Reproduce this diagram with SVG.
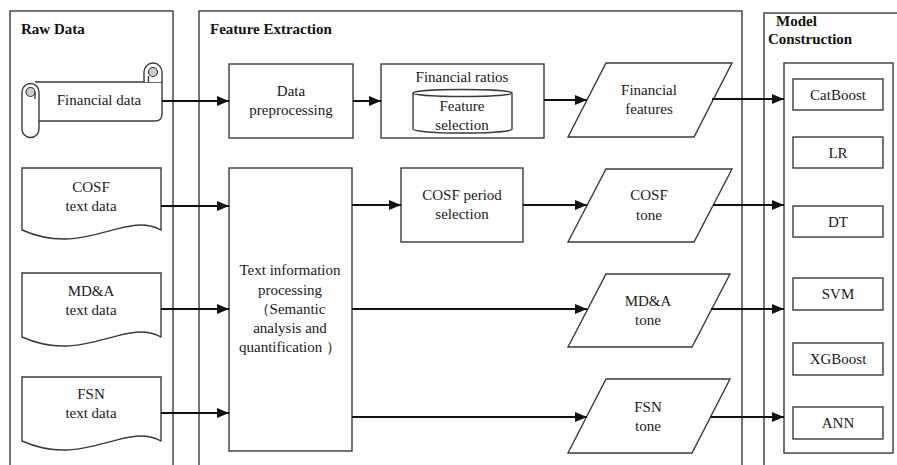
<svg xmlns="http://www.w3.org/2000/svg" width="897" height="465" viewBox="0 0 897 465">
<defs>
<style>
.bx{fill:#fff;stroke:#3a3a3a;stroke-width:1.4}
.pn{fill:none;stroke:#3a3a3a;stroke-width:1.4}
.t{font-family:'Liberation Serif','DejaVu Serif','Times New Roman',serif;font-size:15px;fill:#1a1a1a;text-anchor:middle}
.h{font-family:'Liberation Serif','DejaVu Serif','Times New Roman',serif;font-size:15px;font-weight:bold;fill:#111}
.c{fill:none;stroke:#111;stroke-width:2}
.gr{fill:#ccc;stroke:#3a3a3a;stroke-width:1.2}
</style>
<marker id="ah" markerWidth="12" markerHeight="10" refX="12" refY="5" orient="auto" markerUnits="userSpaceOnUse">
<path d="M0,0 L12,5 L0,10 Z" fill="#111"/>
</marker>
</defs>
<rect width="897" height="465" fill="#fff"/>

<g id="panel-raw">
<rect class="pn" x="10" y="11" width="163" height="480"/>
<text class="h" x="21" y="34" font-family="Liberation Serif, serif">Raw Data</text>
</g>
<g id="panel-feature">
<rect class="pn" x="199" y="11" width="543" height="480"/>
<text class="h" x="210" y="34">Feature Extraction</text>
</g>
<g id="panel-model">
<rect class="pn" x="764" y="13" width="160" height="480"/>
<text class="h" x="776" y="26">Model</text>
<text class="h" x="768" y="44">Construction</text>
<rect class="bx" x="784" y="63" width="109" height="390"/>
</g>

<g id="financial-data">
<path class="bx" d="M35,82 H162 V114 Q162,121 155,121 H39"/>
<path class="bx" d="M144,82 V72 A9,9 0 0 1 162,72 V82"/>
<circle class="gr" cx="153" cy="72" r="4.5"/>
<path class="pn" d="M148.5,82 V76"/>
<path class="bx" d="M22,92 A8.5,8.5 0 0 1 39,92 V129 A8.5,8.5 0 0 1 22,129 Z"/>
<circle class="gr" cx="30.5" cy="92" r="4.5"/>
<path class="pn" d="M35,92 V99"/>
<text class="t" x="99" y="105">Financial data</text>
</g>

<g id="cosf-text">
<path class="bx" d="M22,168 H161 V230 C125,210 85,258 22,230 Z"/>
<text class="t" x="91" y="192">COSF</text>
<text class="t" x="91" y="211">text data</text>
</g>
<g id="mda-text">
<path class="bx" d="M22,273 H161 V337 C125,317 85,365 22,337 Z"/>
<text class="t" x="91" y="296">MD&amp;A</text>
<text class="t" x="91" y="315">text data</text>
</g>
<g id="fsn-text">
<path class="bx" d="M22,377 H161 V441 C125,421 85,469 22,441 Z"/>
<text class="t" x="91" y="399">FSN</text>
<text class="t" x="91" y="418">text data</text>
</g>

<g id="data-preprocessing">
<rect class="bx" x="229" y="64" width="124" height="74"/>
<text class="t" x="291" y="96">Data</text>
<text class="t" x="291" y="115">preprocessing</text>
</g>
<g id="financial-ratios">
<rect class="bx" x="381" y="64" width="163" height="74"/>
<text class="t" x="462" y="82">Financial ratios</text>
<path class="bx" d="M413,93 A49.5,3.5 0 0 1 512,93 V129 A49.5,4 0 0 1 413,129 Z"/>
<path class="pn" d="M413,93 A49.5,3.5 0 0 0 512,93"/>
<text class="t" x="462" y="111">Feature</text>
<text class="t" x="462" y="130">selection</text>
</g>
<g id="text-info">
<rect class="bx" x="229" y="168" width="123" height="283"/>
<text class="t" x="290" y="275">Text information</text>
<text class="t" x="290" y="295">processing</text>
<text class="t" x="290" y="314">（Semantic</text>
<text class="t" x="290" y="333">analysis and</text>
<text class="t" x="290" y="352">quantification ）</text>
</g>
<g id="cosf-period">
<rect class="bx" x="401" y="168" width="122" height="74"/>
<text class="t" x="462" y="200">COSF period</text>
<text class="t" x="462" y="219">selection</text>
</g>

<g id="financial-features">
<path class="bx" d="M606,63 H732 L694,137 H568 Z"/>
<text class="t" x="649" y="95">Financial</text>
<text class="t" x="649" y="114">features</text>
</g>
<g id="cosf-tone">
<path class="bx" d="M606,169 H732 L694,242 H568 Z"/>
<text class="t" x="649" y="200">COSF</text>
<text class="t" x="649" y="220">tone</text>
</g>
<g id="mda-tone">
<path class="bx" d="M606,274 H730 L692,347 H568 Z"/>
<text class="t" x="648" y="306">MD&amp;A</text>
<text class="t" x="648" y="325">tone</text>
</g>
<g id="fsn-tone">
<path class="bx" d="M606,379 H730 L692,453 H568 Z"/>
<text class="t" x="648" y="412">FSN</text>
<text class="t" x="648" y="431">tone</text>
</g>

<g id="models">
<g id="catboost"><rect class="bx" x="793" y="79" width="90" height="31"/><text class="t" x="838" y="100">CatBoost</text></g>
<g id="lr"><rect class="bx" x="793" y="137" width="90" height="31"/><text class="t" x="838" y="158">LR</text></g>
<g id="dt"><rect class="bx" x="793" y="206" width="90" height="31"/><text class="t" x="838" y="227">DT</text></g>
<g id="svm"><rect class="bx" x="793" y="278" width="90" height="32"/><text class="t" x="838" y="299">SVM</text></g>
<g id="xgboost"><rect class="bx" x="793" y="343" width="90" height="32"/><text class="t" x="838" y="364">XGBoost</text></g>
<g id="ann"><rect class="bx" x="793" y="407" width="90" height="32"/><text class="t" x="838" y="428">ANN</text></g>
</g>

<g id="connectors">
<path class="c" d="M162,101 H229" marker-end="url(#ah)"/>
<path class="c" d="M161,206 H229" marker-end="url(#ah)"/>
<path class="c" d="M161,309 H229" marker-end="url(#ah)"/>
<path class="c" d="M161,413 H229" marker-end="url(#ah)"/>
<path class="c" d="M353,101 H381" marker-end="url(#ah)"/>
<path class="c" d="M544,100 H587" marker-end="url(#ah)"/>
<path class="c" d="M352,205 H401" marker-end="url(#ah)"/>
<path class="c" d="M523,205 H587" marker-end="url(#ah)"/>
<path class="c" d="M352,309 H587" marker-end="url(#ah)"/>
<path class="c" d="M352,417 H587" marker-end="url(#ah)"/>
<path class="c" d="M712,99 H784" marker-end="url(#ah)"/>
<path class="c" d="M713,205 H784" marker-end="url(#ah)"/>
<path class="c" d="M711,309 H784" marker-end="url(#ah)"/>
<path class="c" d="M711,417 H784" marker-end="url(#ah)"/>
</g>
</svg>
